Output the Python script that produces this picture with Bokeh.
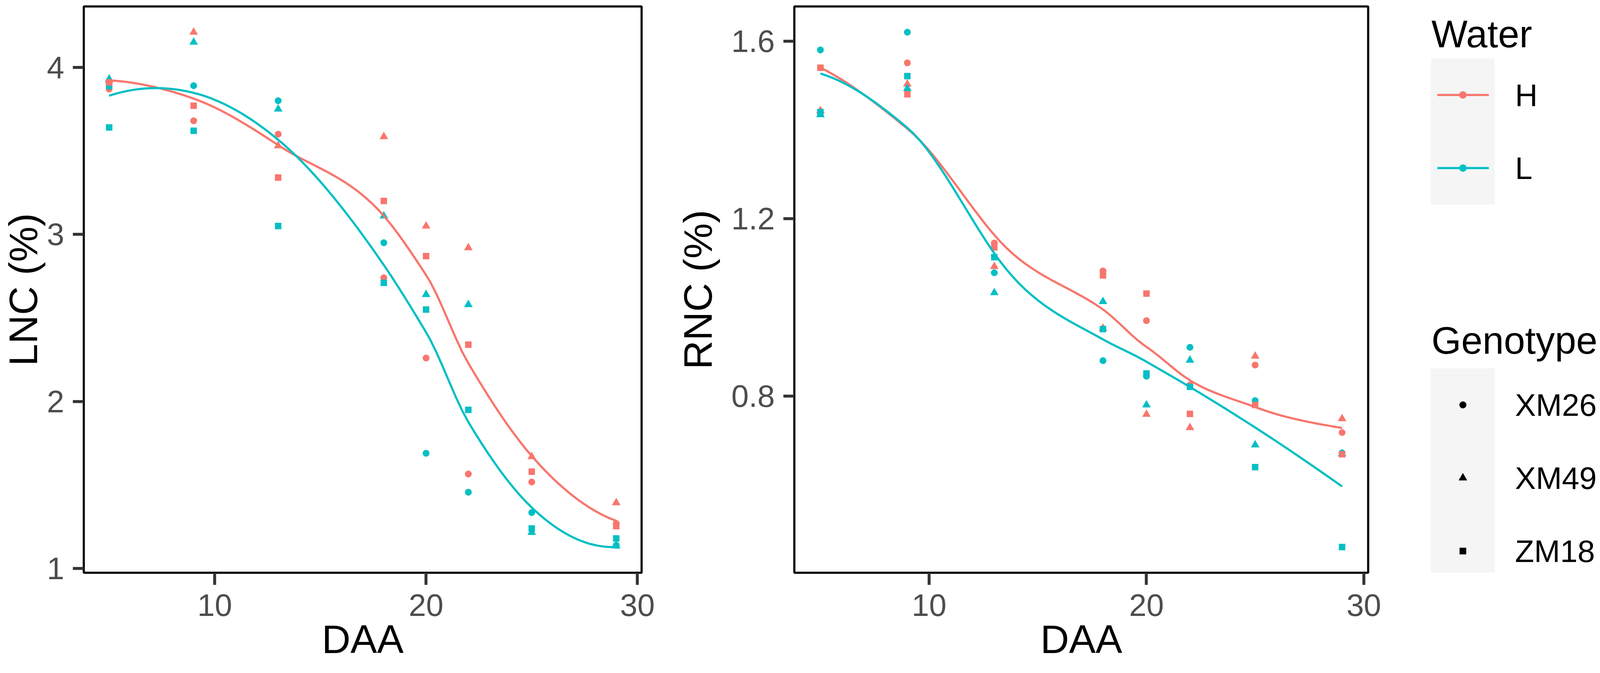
import numpy as np
from bokeh.plotting import figure
from bokeh.layouts import row
from bokeh.models import Range1d, Label, BoxAnnotation
from bokeh.embed import file_html
from bokeh.resources import INLINE

# ---------------- data ----------------
DAA = [5, 9, 13, 18, 20, 22, 25, 29]
WATER = ["H", "L"]
GENOTYPES = ["XM26", "XM49", "ZM18"]
DAA_TICKS = [10, 20, 30]
LNC_TICKS = [1, 2, 3, 4]
RNC_TICKS = [0.8, 1.2, 1.6]

LNC_H_XM26 = [3.87, 3.68, 3.60, 2.74, 2.26, 1.566, 1.518, 1.27]
LNC_H_XM49 = [3.92, 4.21, 3.53, 3.585, 3.05, 2.92, 1.67, 1.394]
LNC_H_ZM18 = [3.91, 3.77, 3.34, 3.20, 2.87, 2.34, 1.58, 1.254]
LNC_L_XM26 = [3.885, 3.89, 3.80, 2.95, 1.69, 1.457, 1.335, 1.14]
LNC_L_XM49 = [3.93, 4.15, 3.75, 3.11, 2.64, 2.58, 1.216, 1.135]
LNC_L_ZM18 = [3.64, 3.62, 3.05, 2.71, 2.55, 1.95, 1.24, 1.18]

RNC_H_XM26 = [1.54, 1.551, 1.145, 1.082, 0.970, 0.825, 0.870, 0.718]
RNC_H_XM49 = [1.443, 1.503, 1.092, 0.953, 0.759, 0.729, 0.890, 0.749]
RNC_H_ZM18 = [1.540, 1.48, 1.135, 1.072, 1.031, 0.760, 0.780, 0.669]
RNC_L_XM26 = [1.580, 1.620, 1.078, 0.88, 0.845, 0.910, 0.790, 0.672]
RNC_L_XM49 = [1.434, 1.493, 1.033, 1.013, 0.780, 0.881, 0.690, 0.67]
RNC_L_ZM18 = [1.440, 1.521, 1.113, 0.951, 0.851, 0.821, 0.640, 0.46]

LNC = {("H", "XM26"): LNC_H_XM26, ("H", "XM49"): LNC_H_XM49, ("H", "ZM18"): LNC_H_ZM18,
       ("L", "XM26"): LNC_L_XM26, ("L", "XM49"): LNC_L_XM49, ("L", "ZM18"): LNC_L_ZM18}
RNC = {("H", "XM26"): RNC_H_XM26, ("H", "XM49"): RNC_H_XM49, ("H", "ZM18"): RNC_H_ZM18,
       ("L", "XM26"): RNC_L_XM26, ("L", "XM49"): RNC_L_XM49, ("L", "ZM18"): RNC_L_ZM18}

# ---------------- styles ----------------
COLORS = {"H": "#F8766D", "L": "#00BFC4"}
MARKERS = {"XM26": "circle", "XM49": "triangle", "ZM18": "square"}
MSIZE = {"XM26": 17.5, "XM49": 22, "ZM18": 16.5}
LEG_MSIZE = {"XM26": 18, "XM49": 22, "ZM18": 17}
FONT = "Liberation Sans"
TICK_PX = "80px"
TITLE_PX = "102px"
LEG_TITLE_PX = "98px"
LINE_W = 5.5


# ---------------- loess (R-style: kd-tree vertices + cubic Hermite) ----------------
def local_fit(x, y, x0, q):
    d = np.abs(x - x0)
    rho = np.sort(d)[q - 1]
    u = np.clip(d / rho, 0, 1)
    w = (1 - u ** 3) ** 3
    X = np.column_stack([np.ones(len(x)), x - x0, (x - x0) ** 2])
    sw = np.sqrt(w)
    beta, *_ = np.linalg.lstsq(X * sw[:, None], y * sw, rcond=None)
    return beta[0], beta[1]


def kd_vertices(x, fc):
    xs = np.sort(x)
    lo, hi = xs[0], xs[-1]
    mu = 0.005 * (hi - lo)
    verts = {lo - mu, hi + mu}

    def build(l, u, vl, vu):
        if u - l + 1 <= fc:
            return
        m = (l + u + 2) // 2 - 1
        off = 0
        while l <= m + off < u:
            if xs[m + off] == xs[m + off + 1]:
                off = -off
                if off >= 0:
                    off += 1
            else:
                m = m + off
                break
        xi = xs[m]
        if xi == vl or xi == vu:
            return
        verts.add(xi)
        build(l, m, vl, xi)
        build(m + 1, u, xi, vu)

    build(0, len(xs) - 1, lo - mu, hi + mu)
    return np.array(sorted(verts))


def loess(x, y, grid, span=0.75):
    x = np.asarray(x, float)
    y = np.asarray(y, float)
    n = len(x)
    q = int(np.floor(n * span))
    fc = int(np.floor(n * span * 0.2))
    v = kd_vertices(x, fc)
    fv = np.array([local_fit(x, y, vv, q) for vv in v])
    out = []
    for g in grid:
        i = min(max(np.searchsorted(v, g) - 1, 0), len(v) - 2)
        v0, v1 = v[i], v[i + 1]
        h = v1 - v0
        t = (g - v0) / h
        h00 = 2 * t ** 3 - 3 * t ** 2 + 1
        h10 = t ** 3 - 2 * t ** 2 + t
        h01 = -2 * t ** 3 + 3 * t ** 2
        h11 = t ** 3 - t ** 2
        out.append(h00 * fv[i, 0] + h10 * h * fv[i, 1] + h01 * fv[i + 1, 0] + h11 * h * fv[i + 1, 1])
    return np.array(out)


H = 1706          # figure height
TOP = 16          # frame top inside each figure
FRAME_BOTTOM = 1465
BOTTOM = H - FRAME_BOTTOM


def make_panel(data, ylabel, yticks, width, bl, br, ylabel_standoff):
    xs_all = []
    ys_all = []
    grid = np.linspace(min(DAA), max(DAA), 80)
    fits = {}
    for w in WATER:
        xx, yy = [], []
        for g in GENOTYPES:
            xx += DAA
            yy += data[(w, g)]
        fits[w] = loess(xx, yy, grid)
        ys_all += yy + list(fits[w])
        xs_all += xx
    xlo, xhi = min(xs_all), max(xs_all)
    ylo, yhi = min(ys_all), max(ys_all)
    xp = 0.05 * (xhi - xlo)
    yp = 0.05 * (yhi - ylo)

    p = figure(width=width, height=H, output_backend="svg", toolbar_location=None,
               x_range=Range1d(xlo - xp, xhi + xp), y_range=Range1d(ylo - yp, yhi + yp),
               min_border_left=bl, min_border_right=br, min_border_top=TOP,
               min_border_bottom=BOTTOM)
    p.background_fill_color = "white"
    p.border_fill_color = "white"
    p.grid.visible = False
    p.outline_line_color = "black"
    p.outline_line_width = 5.5

    for g in GENOTYPES:
        for w in WATER:
            p.scatter(DAA, data[(w, g)], marker=MARKERS[g], size=MSIZE[g],
                      fill_color=COLORS[w], line_color=None)
    for w in WATER:
        p.line(grid, fits[w], line_color=COLORS[w], line_width=LINE_W)

    p.xaxis.ticker = DAA_TICKS
    p.yaxis.ticker = yticks
    p.xaxis.axis_label = "DAA"
    p.yaxis.axis_label = ylabel
    for ax in (p.xaxis[0], p.yaxis[0]):
        ax.axis_line_color = None
        ax.major_tick_line_color = "#333333"
        ax.major_tick_line_width = 7.5
        ax.major_tick_in = 0
        ax.minor_tick_line_color = None
        ax.major_label_text_font = FONT
        ax.major_label_text_font_size = TICK_PX
        ax.major_label_text_color = "#4D4D4D"
        ax.axis_label_text_font = FONT
        ax.axis_label_text_font_size = TITLE_PX
        ax.axis_label_text_font_style = "normal"
        ax.axis_label_text_color = "black"
    p.xaxis.major_tick_out = 31
    p.yaxis.major_tick_out = 28
    p.xaxis.major_label_standoff = 24
    p.xaxis.axis_label_standoff = 0
    p.yaxis.major_label_standoff = 22
    p.yaxis.axis_label_standoff = ylabel_standoff
    return p


p1 = make_panel(LNC, "LNC (%)", LNC_TICKS, 1727, 198, 85, 0)
p2 = make_panel(RNC, "RNC (%)", RNC_TICKS, 1905, 291, 130, 25)

# ---------------- legend panel (figure pixel coordinates, y downward) ----------------
LW = 470
p3 = figure(width=LW, height=H, output_backend="svg", toolbar_location=None,
            x_range=Range1d(0, LW), y_range=Range1d(FRAME_BOTTOM, TOP),
            x_axis_location=None, y_axis_location=None,
            min_border_left=0, min_border_right=0, min_border_top=TOP,
            min_border_bottom=BOTTOM)
p3.grid.visible = False
p3.outline_line_color = None
p3.background_fill_color = "white"
p3.border_fill_color = "white"

KEY_BG = "#F5F5F5"
KEY_L, KEY_R = 31, 194          # key column
KEY_H = 187                     # height of one key
LINE_L, LINE_R = 47, 179        # legend line segment
LABEL_X = 246
KEY_CX = (KEY_L + KEY_R) / 2


def legend_block(title, title_baseline, top, labels, draw_key):
    p3.add_layout(Label(x=KEY_L + 1, y=title_baseline, text=title, text_baseline="alphabetic",
                        text_align="left", text_font=FONT, text_font_size=LEG_TITLE_PX,
                        text_color="black"))
    n = len(labels)
    p3.add_layout(BoxAnnotation(left=KEY_L, right=KEY_R, top=top, bottom=top + n * KEY_H,
                                fill_color=KEY_BG, fill_alpha=1, line_color=None,
                                level="underlay"))
    for i, lab in enumerate(labels):
        cy = top + (i + 0.5) * KEY_H
        draw_key(lab, cy)
        p3.add_layout(Label(x=LABEL_X, y=cy, text=lab, text_baseline="middle",
                            text_align="left", text_font=FONT, text_font_size=TICK_PX,
                            text_color="black"))


def water_key(w, cy):
    p3.line(x=[LINE_L, LINE_R], y=[cy, cy], line_color=COLORS[w], line_width=LINE_W)
    p3.scatter(x=[KEY_CX], y=[cy], marker="circle", size=19, fill_color=COLORS[w],
               line_color=None)


def geno_key(g, cy):
    p3.scatter(x=[KEY_CX], y=[cy], marker=MARKERS[g], size=LEG_MSIZE[g],
               fill_color="black", line_color=None)


legend_block("Water", 86, 149, WATER, water_key)
legend_block("Genotype", 870, 942, GENOTYPES, geno_key)

layout = row(p1, p2, p3)
open("out.html", "w").write(file_html(layout, INLINE))
